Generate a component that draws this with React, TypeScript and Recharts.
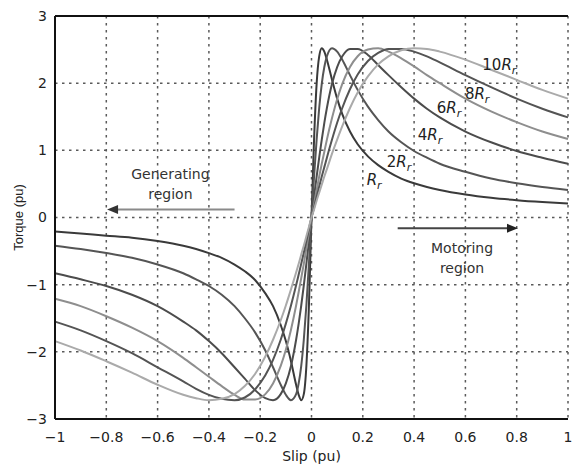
import { LineChart, Line, XAxis, YAxis, CartesianGrid, ReferenceLine, ReferenceDot } from 'recharts';

// slip (pu) sample points, dense near zero where the curves turn
const slip = [
  -1, -0.9, -0.8, -0.7, -0.6, -0.5, -0.45, -0.4, -0.35, -0.3, -0.26, -0.22, -0.18, -0.15, -0.12, -0.1,
  -0.08, -0.06, -0.05, -0.04, -0.03, -0.02, -0.01, 0, 0.01, 0.02, 0.03, 0.04, 0.05, 0.06, 0.08, 0.1,
  0.12, 0.15, 0.18, 0.22, 0.26, 0.3, 0.35, 0.4, 0.45, 0.5, 0.6, 0.7, 0.8, 0.9, 1,
];

// torque (pu)
const torqueR1 = [
  -0.21, -0.24, -0.27, -0.3, -0.35, -0.42, -0.47, -0.53, -0.6, -0.7, -0.8, -0.93, -1.13, -1.32, -1.6, -1.84,
  -2.14, -2.49, -2.64, -2.72, -2.63, -2.21, -1.31, 0, 1.16, 1.99, 2.4, 2.52, 2.47, 2.35, 2.05, 1.77,
  1.54, 1.28, 1.09, 0.91, 0.78, 0.68, 0.58, 0.51, 0.455, 0.41, 0.343, 0.294, 0.258, 0.23, 0.207,
];
const torqueR2 = [
  -0.42, -0.47, -0.53, -0.6, -0.7, -0.83, -0.92, -1.02, -1.15, -1.32, -1.5, -1.71, -1.98, -2.23, -2.49, -2.64,
  -2.72, -2.63, -2.47, -2.21, -1.82, -1.31, -0.69, 0, 0.61, 1.16, 1.63, 1.99, 2.24, 2.4, 2.52, 2.47,
  2.35, 2.12, 1.9, 1.65, 1.45, 1.28, 1.12, 0.99, 0.89, 0.8, 0.68, 0.58, 0.51, 0.455, 0.41,
];
const torqueR4 = [
  -0.83, -0.92, -1.02, -1.15, -1.32, -1.55, -1.68, -1.84, -2.02, -2.23, -2.4, -2.57, -2.69, -2.72, -2.63, -2.47,
  -2.21, -1.82, -1.58, -1.31, -1.01, -0.69, -0.35, 0, 0.31, 0.61, 0.89, 1.16, 1.41, 1.63, 1.99, 2.24,
  2.4, 2.51, 2.51, 2.42, 2.27, 2.12, 1.94, 1.77, 1.62, 1.49, 1.28, 1.12, 0.99, 0.89, 0.8,
];
const torqueR6 = [
  -1.21, -1.32, -1.47, -1.64, -1.84, -2.09, -2.23, -2.37, -2.51, -2.64, -2.71, -2.71, -2.63, -2.47, -2.21, -1.97,
  -1.67, -1.31, -1.11, -0.9, -0.69, -0.46, -0.23, 0, 0.2, 0.41, 0.61, 0.8, 0.98, 1.16, 1.48, 1.76,
  1.99, 2.24, 2.4, 2.5, 2.52, 2.47, 2.37, 2.25, 2.12, 2.0, 1.77, 1.58, 1.42, 1.28, 1.17,
];
const torqueR8 = [
  -1.55, -1.68, -1.84, -2.02, -2.23, -2.44, -2.55, -2.64, -2.7, -2.72, -2.68, -2.56, -2.35, -2.12, -1.82, -1.58,
  -1.31, -1.01, -0.85, -0.69, -0.52, -0.35, -0.17, 0, 0.15, 0.31, 0.46, 0.61, 0.75, 0.89, 1.16, 1.41,
  1.63, 1.91, 2.13, 2.33, 2.45, 2.51, 2.51, 2.47, 2.4, 2.31, 2.12, 1.94, 1.77, 1.62, 1.49,
];
const torqueR10 = [
  -1.84, -1.98, -2.14, -2.31, -2.49, -2.64, -2.69, -2.72, -2.7, -2.63, -2.51, -2.33, -2.07, -1.82, -1.53, -1.31,
  -1.07, -0.82, -0.69, -0.55, -0.42, -0.28, -0.14, 0, 0.12, 0.25, 0.37, 0.49, 0.61, 0.72, 0.95, 1.16,
  1.36, 1.63, 1.86, 2.1, 2.28, 2.4, 2.49, 2.52, 2.51, 2.47, 2.35, 2.2, 2.05, 1.9, 1.77,
];

const xTicks = [-1, -0.8, -0.6, -0.4, -0.2, 0, 0.2, 0.4, 0.6, 0.8, 1];
const yTicks = [-3, -2, -1, 0, 1, 2, 3];

const curves = [
  { key: 'r1', values: torqueR1, color: '#3a3a3a' },
  { key: 'r2', values: torqueR2, color: '#555555' },
  { key: 'r4', values: torqueR4, color: '#4c4c4c' },
  { key: 'r6', values: torqueR6, color: '#8e8e8e' },
  { key: 'r8', values: torqueR8, color: '#545454' },
  { key: 'r10', values: torqueR10, color: '#aaaaaa' },
];

// curve labels: multiplier, slip, torque (text start / baseline)
const curveLabels = [
  { mult: '10', s: 0.666, t: 2.19 },
  { mult: '8', s: 0.598, t: 1.76 },
  { mult: '6', s: 0.488, t: 1.55 },
  { mult: '4', s: 0.414, t: 1.15 },
  { mult: '2', s: 0.293, t: 0.75 },
  { mult: '', s: 0.215, t: 0.48 },
];

const FONT = '"DejaVu Sans", sans-serif';

const data = slip.map((s, i) => {
  const row: Record<string, number> = { s };
  curves.forEach((c) => {
    row[c.key] = c.values[i];
  });
  return row;
});

const fmt = (v: number) => String(v).replace('-', '\u2212');

const rLabel = (mult: string) => (props: any) => (
  <text x={props.cx} y={props.cy} fontFamily={FONT} fontSize={15} fill="#222">
    {mult}
    <tspan fontStyle="italic">R</tspan>
    <tspan fontStyle="italic" fontSize={11} dy={4}>
      r
    </tspan>
  </text>
);

const textBlock = (lines: string[]) => (props: any) => (
  <text fontFamily={FONT} fontSize={14} fill="#333" textAnchor="middle">
    {lines.map((l, i) => (
      <tspan key={l} x={props.cx} y={props.cy + (i - (lines.length - 1) / 2) * 19.5} dominantBaseline="central">
        {l}
      </tspan>
    ))}
  </text>
);

const arrowHead = (dir: number, color: string) => (props: any) => {
  const { cx, cy } = props;
  const b = cx - dir * 11;
  return <polygon points={`${cx},${cy} ${b},${cy - 4.5} ${b},${cy + 4.5}`} fill={color} />;
};

export default function App() {
  return (
    <div style={{ position: 'absolute', left: 0, top: 0, background: '#fff' }}>
      <LineChart width={572} height={465} data={data} margin={{ top: 16, right: 4, bottom: 16, left: 0 }}>
        <CartesianGrid stroke="#5a5a5a" strokeWidth={1.5} strokeDasharray="2.5 4.5" />
        <XAxis
          type="number"
          dataKey="s"
          domain={[-1, 1]}
          ticks={xTicks}
          tickFormatter={fmt}
          tickLine={false}
          tickSize={0}
          tickMargin={13}
          height={30}
          axisLine={{ stroke: '#111', strokeWidth: 2 }}
          tick={{ fontSize: 14, fill: '#222', fontFamily: FONT }}
          label={{
            content: (p: any) => (
              <text x={p.viewBox.x + p.viewBox.width / 2} y={461} textAnchor="middle" fontFamily={FONT} fontSize={14} fill="#222">
                Slip (pu)
              </text>
            ),
          }}
        />
        <YAxis
          type="number"
          domain={[-3, 3]}
          ticks={yTicks}
          tickFormatter={fmt}
          tickLine={false}
          tickSize={0}
          tickMargin={8}
          width={55}
          axisLine={{ stroke: '#111', strokeWidth: 2 }}
          tick={{ fontSize: 14, fill: '#222', fontFamily: FONT }}
          label={{
            content: (p: any) => {
              const cy = p.viewBox.y + p.viewBox.height / 2;
              return (
                <text
                  x={18}
                  y={cy}
                  transform={`rotate(-90 18 ${cy})`}
                  textAnchor="middle"
                  dominantBaseline="central"
                  fontFamily='"Liberation Sans", Arial, sans-serif'
                  fontSize={13}
                  fill="#222"
                >
                  Torque (pu)
                </text>
              );
            },
          }}
        />
        <ReferenceLine y={3} stroke="#111" strokeWidth={2} />

        {curves.map((c) => (
          <Line
            key={c.key}
            type="monotone"
            dataKey={c.key}
            stroke={c.color}
            strokeWidth={2}
            dot={false}
            isAnimationActive={false}
          />
        ))}

        {curveLabels.map((l) => (
          <ReferenceDot key={l.mult || 'r'} x={l.s} y={l.t} r={0} shape={rLabel(l.mult)} />
        ))}

        <ReferenceLine segment={[{ x: -0.3, y: 0.12 }, { x: -0.775, y: 0.12 }]} stroke="#8a8a8a" strokeWidth={2} />
        <ReferenceDot x={-0.797} y={0.12} r={0} shape={arrowHead(-1, '#333')} />
        <ReferenceDot x={-0.55} y={0.5} r={0} shape={textBlock(['Generating', 'region'])} />

        <ReferenceLine segment={[{ x: 0.336, y: -0.16 }, { x: 0.785, y: -0.16 }]} stroke="#444" strokeWidth={2} />
        <ReferenceDot x={0.805} y={-0.16} r={0} shape={arrowHead(1, '#222')} />
        <ReferenceDot x={0.587} y={-0.6} r={0} shape={textBlock(['Motoring', 'region'])} />
      </LineChart>
    </div>
  );
}
